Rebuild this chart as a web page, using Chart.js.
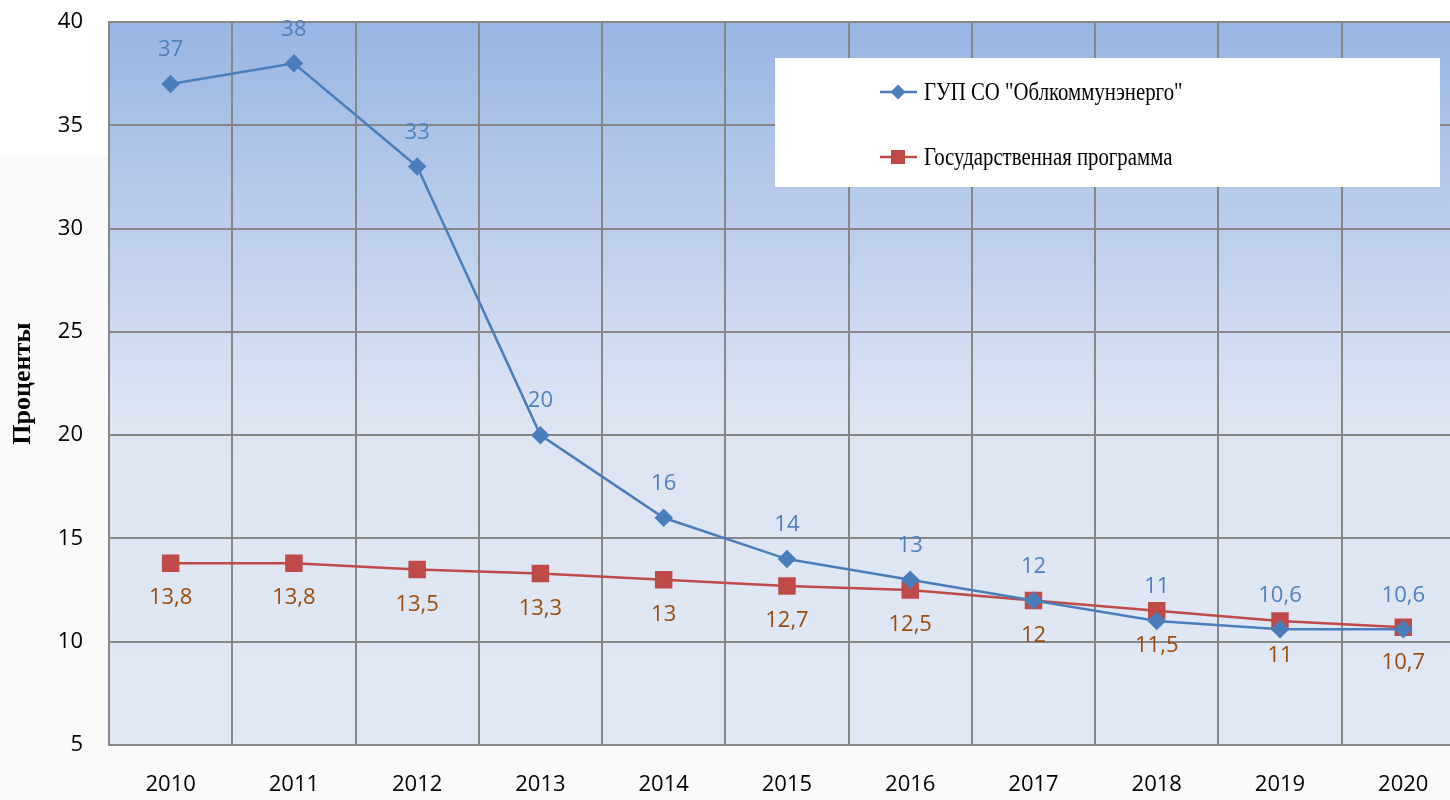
<!DOCTYPE html>
<html lang="ru">
<head>
    <meta charset="UTF-8">
    <title>Проценты 2010–2020</title>
    <style>
        body { margin: 0; padding: 0; overflow: hidden; background: #ffffff; }
        .wrap { width: 1478px; height: 800px; }
    </style>
</head>
<body>
    <div class="wrap"><canvas id="chart" width="1478" height="800"></canvas></div>

    <script src="https://cdn.jsdelivr.net/npm/chart.js"></script>
    <script>
        // Data
        const years = ["2010", "2011", "2012", "2013", "2014", "2015", "2016", "2017", "2018", "2019", "2020"];
        const oblkommunenergo = [37, 38, 33, 20, 16, 14, 13, 12, 11, 10.6, 10.6];
        const gosProgramma = [13.8, 13.8, 13.5, 13.3, 13, 12.7, 12.5, 12, 11.5, 11, 10.7];
        const seriesNames = ['ГУП СО "Облкоммунэнерго"', "Государственная программа"];
        const yTitle = "Проценты";

        const blue = "#4a7ebb";
        const red = "#be4b48";
        const gridGray = "#878787";

        const fmt = v => String(v).replace(".", ",");

        // page background and gradient behind the plot
        const backgroundPlugin = {
            id: "bg",
            beforeDraw(chart) {
                const { ctx, chartArea: a } = chart;
                ctx.save();
                ctx.fillStyle = "#ffffff";
                ctx.fillRect(0, 0, chart.width, chart.height);
                ctx.fillStyle = "#fafafa";
                ctx.fillRect(0, 155, a.left, chart.height - 155);
                ctx.fillRect(0, a.bottom, chart.width, chart.height - a.bottom);
                const g = ctx.createLinearGradient(0, a.top, 0, a.bottom);
                g.addColorStop(0, "#99b5e3");
                g.addColorStop(0.55, "#dde5f3");
                g.addColorStop(1, "#e0e8f5");
                ctx.fillStyle = g;
                ctx.fillRect(a.left, a.top, a.right - a.left, a.bottom - a.top);
                ctx.restore();
            }
        };

        // value labels: blue above the point, brown below
        const valueLabels = {
            id: "valueLabels",
            afterDatasetsDraw(chart) {
                const { ctx } = chart;
                ctx.save();
                ctx.font = "22px 'Open Sans', sans-serif";
                ctx.textAlign = "center";
                ctx.textBaseline = "middle";
                chart.data.datasets.forEach((ds, i) => {
                    const meta = chart.getDatasetMeta(i);
                    meta.data.forEach((pt, j) => {
                        ctx.fillStyle = i === 0 ? "#4f81bd" : "#9c4a0a";
                        const dy = i === 0 ? -34 : 35;
                        ctx.fillText(fmt(ds.data[j]), pt.x, pt.y + dy);
                    });
                });
                ctx.restore();
            }
        };

        // legend box inside the plot, top right
        const legendBox = {
            id: "legendBox",
            afterDraw(chart) {
                const { ctx } = chart;
                const x0 = 775, y0 = 58, w = 665, h = 129;
                ctx.save();
                ctx.fillStyle = "#ffffff";
                ctx.fillRect(x0, y0, w, h);
                const rows = [92, 157];
                chart.data.datasets.forEach((ds, i) => {
                    const y = rows[i];
                    ctx.strokeStyle = ds.borderColor;
                    ctx.lineWidth = 2.5;
                    ctx.beginPath();
                    ctx.moveTo(880, y);
                    ctx.lineTo(917, y);
                    ctx.stroke();
                    ctx.fillStyle = ds.backgroundColor;
                    ctx.beginPath();
                    if (i === 0) {
                        ctx.moveTo(898, y - 7.5);
                        ctx.lineTo(905.5, y);
                        ctx.lineTo(898, y + 7.5);
                        ctx.lineTo(890.5, y);
                        ctx.closePath();
                    } else {
                        ctx.rect(891, y - 7, 14, 14);
                    }
                    ctx.fill();
                    // condensed serif text like the original
                    ctx.save();
                    ctx.translate(924, y + 1);
                    ctx.scale(0.8, 1);
                    ctx.fillStyle = "#000000";
                    ctx.font = "26px 'Liberation Serif', 'Times New Roman', serif";
                    ctx.textAlign = "left";
                    ctx.textBaseline = "middle";
                    ctx.fillText(ds.label, 0, 0);
                    ctx.restore();
                });
                ctx.restore();
            }
        };

        new Chart(document.getElementById("chart"), {
            type: "line",
            data: {
                labels: years,
                datasets: [
                    {
                        label: seriesNames[0],
                        data: oblkommunenergo,
                        borderColor: blue,
                        backgroundColor: blue,
                        borderWidth: 2.5,
                        pointStyle: "rectRot",
                        pointRadius: 7.5,
                        pointHoverRadius: 7.5,
                        tension: 0
                    },
                    {
                        label: seriesNames[1],
                        data: gosProgramma,
                        borderColor: red,
                        backgroundColor: red,
                        borderWidth: 2.5,
                        pointStyle: "rect",
                        pointRadius: 10.6,
                        pointHoverRadius: 10.6,
                        tension: 0
                    }
                ]
            },
            options: {
                responsive: false,
                animation: false,
                layout: { padding: { top: 22, right: 5, left: 0, bottom: 0 } },
                plugins: {
                    legend: { display: false },
                    tooltip: { enabled: false }
                },
                scales: {
                    x: {
                        offset: true,
                        grid: { offset: true, color: gridGray, lineWidth: 2, drawTicks: false },
                        border: { color: gridGray, width: 2 },
                        ticks: {
                            padding: 27,
                            color: "#000000",
                            font: { family: "'Open Sans', sans-serif", size: 22 }
                        },
                        afterFit: s => { s.height = 55; s.paddingLeft = 0; s.paddingRight = 0; }
                    },
                    y: {
                        min: 5,
                        max: 40,
                        ticks: {
                            stepSize: 5,
                            padding: 26,
                            color: "#000000",
                            font: { family: "'Open Sans', sans-serif", size: 22 }
                        },
                        grid: { color: gridGray, lineWidth: 2, drawTicks: false },
                        border: { color: gridGray, width: 2 },
                        title: {
                            display: true,
                            text: yTitle,
                            color: "#000000",
                            padding: { top: 8, bottom: 0 },
                            font: { family: "'Liberation Serif', 'Times New Roman', serif", size: 26, weight: "bold" }
                        },
                        afterFit: s => { s.width = 109; s.paddingTop = 0; s.paddingBottom = 0; }
                    }
                }
            },
            plugins: [backgroundPlugin, valueLabels, legendBox]
        });
    </script>
</body>
</html>
